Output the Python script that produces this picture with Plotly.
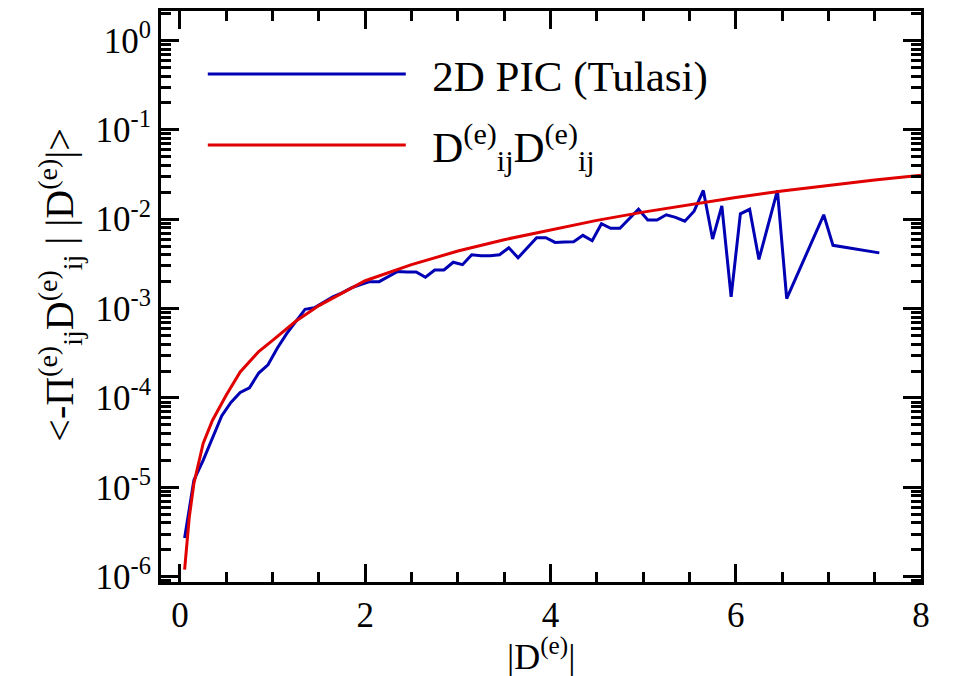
import plotly.graph_objects as go

# ---- data ----
pic_x = [0.05, 0.15, 0.25, 0.35, 0.45, 0.55, 0.65, 0.75, 0.85, 0.95,
         1.05, 1.15, 1.25, 1.35, 1.45, 1.55, 1.65, 1.75, 1.85, 1.95,
         2.05, 2.15, 2.25, 2.35, 2.45, 2.55, 2.65, 2.75, 2.85, 2.95,
         3.05, 3.15, 3.25, 3.35, 3.45, 3.55, 3.65, 3.75, 3.85, 3.95,
         4.05, 4.15, 4.25, 4.35, 4.45, 4.55, 4.65, 4.75, 4.85, 4.95,
         5.05, 5.15, 5.25, 5.35, 5.45, 5.55, 5.65, 5.75, 5.85, 5.95,
         6.05, 6.15, 6.25, 6.45, 6.55, 6.95, 7.05, 7.55]
pic_y = [2.7e-6, 1.2e-5, 2.0e-5, 3.5e-5, 6.3e-5, 8.9e-5, 1.15e-4, 1.3e-4, 1.9e-4, 2.35e-4,
         3.6e-4, 5.2e-4, 7.2e-4, 9.8e-4, 1.02e-3, 1.17e-3, 1.35e-3, 1.5e-3, 1.7e-3, 1.86e-3,
         2.0e-3, 2.0e-3, 2.3e-3, 2.6e-3, 2.57e-3, 2.57e-3, 2.24e-3, 2.7e-3, 2.7e-3, 3.3e-3,
         3.1e-3, 4.0e-3, 3.9e-3, 3.9e-3, 4.0e-3, 4.8e-3, 3.7e-3, 4.8e-3, 6.2e-3, 6.2e-3,
         5.5e-3, 5.55e-3, 5.6e-3, 6.6e-3, 5.75e-3, 8.9e-3, 7.9e-3, 7.9e-3, 1.0e-2, 1.29e-2,
         9.8e-3, 9.8e-3, 1.12e-2, 1.05e-2, 9.5e-3, 1.23e-2, 2.1e-2, 6.0e-3, 1.41e-2, 1.35e-3,
         1.15e-2, 1.29e-2, 3.55e-3, 2.1e-2, 1.29e-3, 1.12e-2, 5.1e-3, 4.2e-3]

dd_x = [0.05, 0.1, 0.15, 0.25, 0.35, 0.5, 0.65, 0.85, 1.0, 1.25, 1.5, 1.75, 2.0,
        2.5, 3.0, 3.5, 4.0, 4.5, 5.0, 5.5, 6.0, 6.5, 7.0, 7.5, 8.0]
dd_y = [1.2e-6, 4.6e-6, 1.1e-5, 3.1e-5, 5.6e-5, 1.08e-4, 1.95e-4, 3.3e-4, 4.4e-4,
        7.2e-4, 1.08e-3, 1.5e-3, 2.05e-3, 3.1e-3, 4.4e-3, 5.9e-3, 7.6e-3, 9.7e-3,
        1.2e-2, 1.46e-2, 1.75e-2, 2.07e-2, 2.4e-2, 2.75e-2, 3.1e-2]

x_tickvals = [0, 2, 4, 6, 8]
y_exponents = [0, -1, -2, -3, -4, -5, -6]
y_tickvals = [10.0 ** e for e in y_exponents]
y_ticktext = ["10<sup>%d</sup>" % e for e in y_exponents]
y_minor = [k * 10.0 ** e for e in range(-7, 1) for k in range(2, 10)]

names = ["\u00a0\u00a02D PIC (Tulasi)",
         "\u00a0\u00a0D<sup>(e)</sup><sub>ij</sub>D<sup>(e)</sup><sub>ij</sub>"]
colors = ["#0000b4", "#e00000"]
x_title = "|D<sup>(e)</sup>|"
y_title = ("&lt;-Π<sup>(e)</sup><sub>ij</sub>D<sup>(e)</sup><sub>ij</sub>"
           " | |D<sup>(e)</sup>|&gt;")

FONT = "Times New Roman, Liberation Serif, DejaVu Serif, serif"

fig = go.Figure()
fig.add_trace(go.Scatter(x=pic_x, y=pic_y, mode="lines", name=names[0], legendgroup="a",
                         line=dict(color=colors[0], width=3)))
fig.add_trace(go.Scatter(x=dd_x, y=dd_y, mode="lines", name=names[1], legendgroup="b",
                         line=dict(color=colors[1], width=3)))

axis_common = dict(showline=True, linecolor="black", linewidth=3, mirror="allticks",
                   ticks="inside", ticklen=18, tickwidth=2.5, tickcolor="black",
                   showgrid=False, zeroline=False,
                   tickfont=dict(family=FONT, size=35, color="black"))

fig.update_xaxes(range=[-0.205, 8.0], tickmode="array", tickvals=x_tickvals,
                 minor=dict(ticks="inside", ticklen=10, tickwidth=2.5, tickcolor="black",
                            dtick=0.5, tick0=0, showgrid=False),
                 **axis_common)
fig.update_yaxes(type="log", range=[-6.06, 0.33], tickmode="array", tickvals=y_tickvals,
                 ticktext=y_ticktext,
                 minor=dict(ticks="inside", ticklen=10, tickwidth=2.5, tickcolor="black",
                            tickmode="array", tickvals=y_minor, showgrid=False),
                 **axis_common)

# axis titles as free text so they sit where the reference has them
fig.add_annotation(text=y_title, xref="paper", yref="paper", x=-0.134, y=0.521,
                   xanchor="center", yanchor="middle", textangle=-90, showarrow=False,
                   font=dict(family=FONT, size=40, color="black"))
fig.add_annotation(text=x_title, xref="paper", yref="paper", x=0.5, y=-0.0836,
                   xanchor="center", yanchor="top", showarrow=False,
                   font=dict(family=FONT, size=36, color="black"))

fig.update_layout(width=958, height=676,
                  margin=dict(l=161, r=37, t=8, b=94),
                  plot_bgcolor="white", paper_bgcolor="white",
                  font=dict(family=FONT, color="black"),
                  showlegend=True,
                  legend=dict(x=0.055, y=0.95, xanchor="left", yanchor="top",
                              bgcolor="rgba(0,0,0,0)", borderwidth=0,
                              traceorder="grouped", tracegroupgap=12,
                              itemwidth=198, font=dict(family=FONT, size=43, color="black")))

fig.write_html("out.html")
